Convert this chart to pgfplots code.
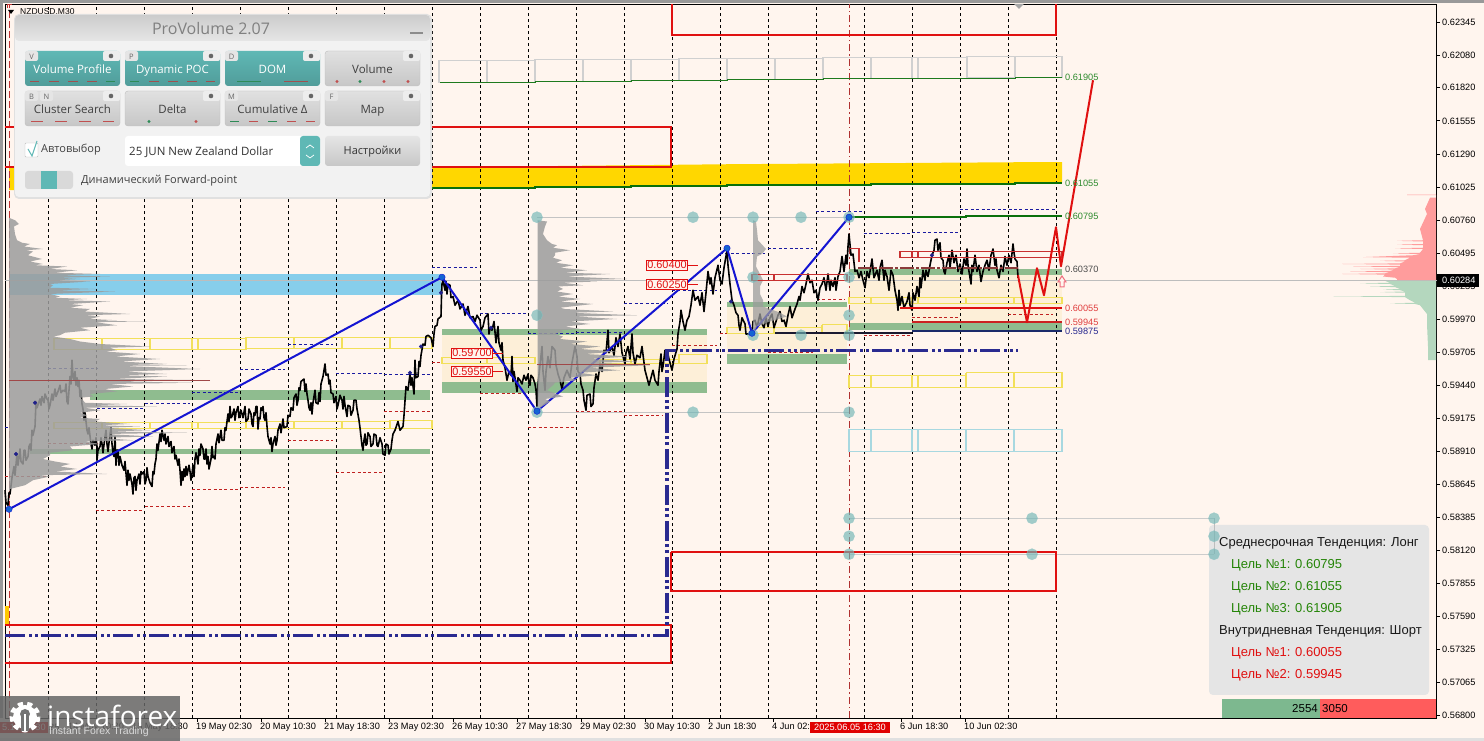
\documentclass[border=0pt]{standalone}
\usepackage{fontspec}
\usepackage{pgfplots}
\pgfplotsset{compat=1.18}
\setmainfont{Liberation Sans}
\newfontfamily\panelfont{Open Sans}
\definecolor{bgc}{HTML}{FFF5EE}
\definecolor{grn}{HTML}{8FBC8F}
\definecolor{beig}{HTML}{FDEFD8}
\definecolor{ybox}{HTML}{F2E05A}
\definecolor{rred}{HTML}{E01010}
\definecolor{dgrn}{HTML}{0A700A}
\definecolor{navy2}{HTML}{2A2A90}
\definecolor{zig}{HTML}{1414D2}
\definecolor{teal2}{HTML}{5FB8B5}
\definecolor{dashb}{HTML}{1A1AA0}
\definecolor{dashr}{HTML}{C02020}
\definecolor{prof}{HTML}{9C9C9C}
\definecolor{bxr}{HTML}{C83030}
\definecolor{cblue}{HTML}{87CEEB}
\definecolor{cgold}{HTML}{FFD700}
\definecolor{cgold2}{HTML}{FFC800}
\definecolor{cg1}{HTML}{BDBDBD}
\definecolor{cg2}{HTML}{C4C4C4}
\definecolor{cg3}{HTML}{CCCCCC}
\definecolor{cg4}{HTML}{D0D0D0}
\definecolor{cg5}{HTML}{1E7A1E}
\definecolor{cr1}{HTML}{B03030}
\definecolor{cr2}{HTML}{C03030}
\definecolor{cr3}{HTML}{CC2222}
\definecolor{clb}{HTML}{A8D8E0}
\definecolor{cpoc}{HTML}{A04848}
\definecolor{cbr}{HTML}{8B3A3A}
\definecolor{cn1}{HTML}{1A1A30}
\definecolor{cn2}{HTML}{1A2A6A}
\definecolor{ccirc}{HTML}{6FB5B5}
\definecolor{ccirc2}{HTML}{8FC5C5}
\definecolor{cdot}{HTML}{1464D2}
\definecolor{cdot2}{HTML}{20208A}
\definecolor{cpink}{HTML}{FF9C9C}
\definecolor{clg}{HTML}{B4D7BE}
\definecolor{cglab}{HTML}{2E8B2E}
\definecolor{crlab}{HTML}{E04040}
\definecolor{carr}{HTML}{F07080}
\definecolor{cflag}{HTML}{E00000}
\definecolor{cpan}{HTML}{F2F2F2}
\definecolor{cbg}{HTML}{7DB88F}
\definecolor{cbr2}{HTML}{FF5C5C}
\definecolor{ci1}{HTML}{A05050}
\definecolor{ci2}{HTML}{2E8B57}
\definecolor{ci3}{HTML}{C05050}
\newcommand\zone[5]{\addplot[fill=#5,draw=none,forget plot] coordinates {(#1,#3)(#2,#3)(#2,#4)(#1,#4)} --cycle;}
\newcommand\bx[5]{\addplot[draw=#5,line width=1.1pt,forget plot] coordinates {(#1,#3)(#2,#3)(#2,#4)(#1,#4)(#1,#3)};}
\newcommand\seg[4]{\addplot[#4,forget plot] coordinates {(#1,#3)(#2,#3)};}
\newcommand\db[3]{\addplot[dashb,line width=0.9pt,dash pattern=on 3pt off 2.4pt,forget plot] coordinates {(#1,#3)(#2,#3)};}
\newcommand\dr[3]{\addplot[dashr,line width=0.9pt,dash pattern=on 3pt off 2.4pt,forget plot] coordinates {(#1,#3)(#2,#3)};}
\newcommand\lab[3]{\node[anchor=west,inner sep=0pt,text=#3,font=\fontsize{9.2}{10}\selectfont] at (axis cs:1065,#1) {#2};}
\newcommand\pricetag[3]{\node[draw=rred,fill=bgc,text=rred,inner sep=1pt,line width=.8pt,font=\fontsize{10.9}{12}\selectfont,anchor=center] at (axis cs:#1,#2) {#3};}
\newcommand\btn[6]{%
 \ifnum#5=1 \shade[rounded corners=3pt,top color=teal2,bottom color=teal2!85!black] (#1,#2) rectangle (#3,#4);\def\btncol{white}%
 \else \shade[rounded corners=3pt,top color=white!88!black,bottom color=white!78!black,draw=white!75!black,line width=.4pt] (#1,#2) rectangle (#3,#4);\def\btncol{black!75}\fi
 \node[anchor=base,inner sep=0pt,font=\panelfont\fontsize{11.5}{12}\selectfont,text=\btncol] at ({(#1+#3)/2},{#2+23}) {#6};
 \fill[white!93!black,rounded corners=2pt] ({#3-17},#2) rectangle (#3,{#2+10});
 \fill[black!60] ({#3-9},{#2+5}) circle (2.3);
 }
\newcommand\tabl[3]{\fill[white!90!black,rounded corners=2pt] (#1,#2) rectangle ({#1+13},{#2+10});\node[font=\panelfont\fontsize{7.5}{8}\selectfont,text=black!60] at ({#1+6.5},{#2+5.5}) {#3};}
\newcommand\tck[4]{\draw[#4,line width=.8pt] (#1,#3) -- (#2,#3);}
\begin{document}
\begin{tikzpicture}[x=1pt,y=1pt]
\useasboundingbox (0,0) rectangle (1484,741);
\fill[bgc] (0,0) rectangle (1484,741);
\begin{scope}[shift={(0,741)},y=-1pt]
\fill[black!40] (0,0) rectangle (1484,3);
\fill[black!40] (0,0) rectangle (3,718);
\fill[black!12] (0,738) rectangle (1484,741);
% info panel
\fill[white!90!black,rounded corners=4pt] (1209,525) rectangle (1429,695);
\begin{scope}[font=\fontsize{13}{14}\selectfont]
\node[anchor=west,inner sep=0pt,text=black!90] at (1219,543.5) {Среднесрочная Тенденция: Лонг};
\node[anchor=west,inner sep=0pt,text=dgrn!85!lime] at (1231,565.5) {Цель №1: 0.60795};
\node[anchor=west,inner sep=0pt,text=dgrn!85!lime] at (1231,587.5) {Цель №2: 0.61055};
\node[anchor=west,inner sep=0pt,text=dgrn!85!lime] at (1231,609.5) {Цель №3: 0.61905};
\node[anchor=west,inner sep=0pt,text=black!90] at (1219,631.5) {Внутридневная Тенденция: Шорт};
\node[anchor=west,inner sep=0pt,text=rred] at (1231,653.5) {Цель №1: 0.60055};
\node[anchor=west,inner sep=0pt,text=rred] at (1231,675.5) {Цель №2: 0.59945};
\end{scope}
\fill[cbg] (1222,699) rectangle (1320,718);
\fill[cbr2] (1320,699) rectangle (1436,718);
\node[anchor=east,inner sep=0pt,font=\fontsize{11.5}{12}\selectfont] at (1318,709) {2554};
\node[anchor=west,inner sep=0pt,font=\fontsize{11.5}{12}\selectfont] at (1322,709) {3050};
\end{scope}
\begin{axis}[at={(5,18.2)},anchor=south west,scale only axis,width=1431.5pt,height=714pt,
 xmin=5,xmax=1436.5,ymin=0.56776,ymax=0.62488,clip=false,
 axis line style={black,line width=1pt},
 tick style={black,line width=.8pt},major tick length=3.5pt,tick align=outside,
 xtick pos=bottom,ytick pos=right,yticklabel pos=right,
 xtick={69,133,197,261,325,389,453,517,581,645,709,773,901,965},
 xticklabels={14 May 10:30,15 May 18:30,19 May 02:30,20 May 10:30,21 May 18:30,23 May 02:30,26 May 10:30,27 May 18:30,29 May 02:30,30 May 10:30,2 Jun 18:30,4 Jun 02:30,6 Jun 18:30,10 Jun 02:30},
 xticklabel style={anchor=north west,inner sep=0pt,xshift=-1pt,yshift=-1.5pt,font=\fontsize{9.2}{10}\selectfont},
 ytick={0.62345,0.62080,0.61820,0.61555,0.61290,0.61025,0.60760,0.60495,0.60235,0.59970,0.59705,0.59440,0.59175,0.58910,0.58645,0.58385,0.58120,0.57855,0.57590,0.57325,0.57065,0.56800},
 yticklabels={0.62345,0.62080,0.61820,0.61555,0.61290,0.61025,0.60760,0.60495,0.60235,0.59970,0.59705,0.59440,0.59175,0.58910,0.58645,0.58385,0.58120,0.57855,0.57590,0.57325,0.57065,0.56800},
 yticklabel style={anchor=west,inner sep=0pt,xshift=2pt,font=\fontsize{9.2}{10}\selectfont},
 scaled y ticks=false,
]
% zones
\zone{9}{441}{0.60328}{0.6016}{cblue}
\addplot[fill=cgold,draw=none,forget plot] coordinates {(9,0.61176)(439,0.61184)(535,0.61192)(631,0.612)(727,0.61208)(871,0.61216)(1015,0.61224)(1062,0.61224)(1062,0.6106)(1015,0.6106)(871,0.61048)(727,0.6104)(631,0.61032)(535,0.61024)(439,0.61016)(431,0.61016)(9,0.61)} --cycle;
\zone{90}{430}{0.5940}{0.5932}{grn}
\zone{30}{430}{0.58928}{0.58888}{grn}
\zone{442}{707}{0.5984}{0.59464}{beig}
\zone{442}{707}{0.59888}{0.5984}{grn}
\zone{442}{707}{0.59464}{0.59376}{grn}
\zone{727}{847}{0.60064}{0.59688}{beig}
\zone{727}{847}{0.60104}{0.60064}{grn}
\zone{727}{847}{0.59688}{0.59608}{grn}
\zone{849}{1062}{0.6032}{0.59936}{beig}
\zone{849}{1062}{0.60368}{0.6032}{grn}
\zone{849}{1062}{0.59936}{0.5988}{grn}
\zone{5}{9}{0.57672}{0.5752}{cgold2}
% gray lines
\seg{5}{1436.5}{0.6028}{cg1,line width=1pt}
\seg{537}{849}{0.60784}{cg2,line width=1pt}
\seg{537}{849}{0.59224}{cg2,line width=1pt}
\seg{849}{1214}{0.58376}{cg3,line width=1pt}
\seg{849}{1214}{0.58088}{cg3,line width=1pt}
\addplot[cg1,line width=1pt,forget plot] coordinates {(1214,0.58376)(1214,0.58088)};
% vertical grid
\pgfplotsinvokeforeach{48,96,144,192,240,288,336,384,432,480,528,576,624,672,720,768,816,864,912,960,1008,1056}{
\addplot[black,line width=.9pt,dash pattern=on 3pt off 3pt,forget plot] coordinates {(#1,0.56776)(#1,0.62488)};}
\addplot[cr1,line width=.9pt,dash pattern=on 7pt off 3pt on 1.5pt off 3pt,forget plot] coordinates {(849,0.56776)(849,0.62488)};
\addplot[cr2,line width=.9pt,dash pattern=on 7pt off 3pt,forget plot] coordinates {(9,0.56776)(9,0.62488)};
% red rectangles
\addplot[rred,line width=2pt,forget plot] coordinates {(672,0.62488)(672,0.6224)(1056,0.6224)(1056,0.62488)};
\addplot[rred,line width=2pt,forget plot] coordinates {(5,0.61504)(671,0.61504)(671,0.61184)(5,0.61184)};
\addplot[rred,line width=2pt,forget plot] coordinates {(671,0.58104)(1056,0.58104)(1056,0.57792)(671,0.57792)(671,0.58104)};
\addplot[rred,line width=2pt,forget plot] coordinates {(5,0.5752)(671,0.5752)(671,0.57216)(5,0.57216)};
% gray boxes and top target
\bx{439}{487}{0.6204}{0.61864}{cg4}\bx{487}{535}{0.6204}{0.61864}{cg4}
\bx{535}{583}{0.62048}{0.61872}{cg4}\bx{583}{631}{0.62048}{0.61872}{cg4}
\bx{631}{679}{0.62048}{0.6188}{cg4}\bx{679}{727}{0.62056}{0.6188}{cg4}
\bx{727}{775}{0.62056}{0.61888}{cg4}\bx{775}{823}{0.62056}{0.61888}{cg4}
\bx{823}{871}{0.62064}{0.61896}{cg4}\bx{871}{912}{0.62064}{0.61896}{cg4}
\bx{912}{918}{0.62064}{0.61896}{cg4}\bx{918}{967}{0.62064}{0.61896}{cg4}
\bx{967}{1015}{0.62072}{0.61904}{cg4}\bx{1015}{1062}{0.62072}{0.61904}{cg4}
\addplot[cg5,line width=1pt,forget plot] coordinates {(440,0.61864)(535,0.61864)(535,0.61872)(631,0.61872)(631,0.6188)(727,0.6188)(727,0.61888)(823,0.61888)(823,0.61896)(1015,0.61896)(1015,0.61904)(1062,0.61904)};
\addplot[dgrn,line width=2pt,forget plot] coordinates {(431,0.61016)(535,0.61016)(535,0.61024)(631,0.61024)(631,0.61032)(727,0.61032)(727,0.6104)(871,0.6104)(871,0.61048)(1015,0.61048)(1015,0.6106)(1062,0.6106)};
% yellow boxes
\bx{54}{102}{0.59816}{0.59728}{ybox}\bx{102}{150}{0.59816}{0.59728}{ybox}\bx{150}{192}{0.59816}{0.59728}{ybox}\bx{192}{198}{0.59816}{0.59728}{ybox}\bx{198}{246}{0.59816}{0.59728}{ybox}\bx{246}{294}{0.59824}{0.59736}{ybox}\bx{294}{342}{0.59824}{0.59736}{ybox}\bx{342}{390}{0.59824}{0.59736}{ybox}\bx{390}{432}{0.59824}{0.59736}{ybox}
\bx{54}{102}{0.59144}{0.59096}{ybox}\bx{102}{150}{0.59144}{0.59096}{ybox}\bx{150}{192}{0.59144}{0.59096}{ybox}\bx{192}{198}{0.59144}{0.59096}{ybox}\bx{198}{246}{0.59144}{0.59096}{ybox}\bx{246}{294}{0.5915}{0.59096}{ybox}\bx{294}{342}{0.5915}{0.59096}{ybox}\bx{342}{390}{0.5915}{0.59096}{ybox}\bx{390}{432}{0.5916}{0.59096}{ybox}
\bx{442}{487}{0.59664}{0.59616}{ybox}\bx{487}{535}{0.59664}{0.59616}{ybox}\bx{600}{631}{0.59648}{0.59616}{ybox}\bx{631}{679}{0.59648}{0.59616}{ybox}\bx{679}{707}{0.59688}{0.59616}{ybox}
\bx{727}{774}{0.59904}{0.59856}{ybox}\bx{774}{822}{0.59904}{0.59856}{ybox}\bx{822}{847}{0.59925}{0.59856}{ybox}
\bx{849}{871}{0.60144}{0.60096}{ybox}\bx{871}{912}{0.60144}{0.60096}{ybox}\bx{912}{918}{0.60144}{0.60096}{ybox}\bx{918}{966}{0.60144}{0.60096}{ybox}\bx{966}{1014}{0.60144}{0.60096}{ybox}\bx{1014}{1062}{0.60144}{0.60096}{ybox}
\bx{849}{871}{0.5952}{0.59424}{ybox}\bx{871}{912}{0.5952}{0.59424}{ybox}\bx{912}{918}{0.5952}{0.59424}{ybox}\bx{918}{966}{0.5952}{0.59424}{ybox}\bx{966}{1014}{0.5954}{0.59424}{ybox}\bx{1014}{1062}{0.5954}{0.59424}{ybox}
\bx{849}{871}{0.59088}{0.58912}{clb}\bx{871}{912}{0.59088}{0.58912}{clb}\bx{912}{918}{0.59088}{0.58912}{clb}\bx{918}{966}{0.59088}{0.58912}{clb}\bx{966}{1014}{0.59088}{0.58912}{clb}\bx{1014}{1062}{0.59088}{0.58912}{clb}
% dashed session high / low
\db{48}{97}{0.59576}\db{97}{145}{0.59256}\db{145}{190}{0.59296}\db{192}{240}{0.59384}\db{240}{285}{0.59568}\db{288}{333}{0.59768}\db{336}{383}{0.59536}\db{384}{430}{0.59528}\db{432}{477}{0.60384}\db{480}{527}{0.60016}\db{528}{575}{0.59856}\db{576}{623}{0.59864}\db{624}{668}{0.60096}\db{672}{717}{0.602}\db{720}{765}{0.60496}\db{768}{813}{0.60536}\db{816}{862}{0.60832}\db{864}{910}{0.60656}\db{912}{958}{0.60664}\db{960}{1055}{0.60848}\db{5}{10}{0.59104}
\dr{5}{48}{0.58712}\dr{48}{97}{0.58976}\dr{96}{142}{0.5844}\dr{145}{190}{0.58472}\dr{192}{240}{0.58608}\dr{240}{285}{0.58624}\dr{288}{333}{0.59}\dr{336}{383}{0.58744}\dr{384}{430}{0.59232}\dr{432}{442}{0.59624}\dr{480}{527}{0.59376}\dr{528}{575}{0.59104}\dr{576}{622}{0.59232}\dr{624}{663}{0.592}\dr{672}{717}{0.5976}\dr{720}{727}{0.59856}\dr{768}{813}{0.59704}\dr{817}{845}{0.60128}\dr{864}{910}{0.5984}\dr{912}{958}{0.59984}\dr{1008}{1053}{0.60008}
% price
\addplot[black,line width=1.6pt,line join=round,forget plot] coordinates {
(5,.5860)(6,.5850)(8,.5848)(9,.5858)(10,.5857)(12,.5870)(14,.5879)(15,.5872)(17,.5889)(18,.5880)(20,.5893)(21,.5883)(23,.5881)(24,.5892)(25,.5892)(26,.5884)(28,.5887)(29,.5895)(30,.5897)(31,.5892)(32,.5908)(33,.5904)(35,.5911)(36,.5931)(37,.5926)(40,.5933)(41,.5928)(42,.5935)(44,.5930)(45,.5937)(47,.5933)(48,.5932)(49,.5925)(50,.5928)(52,.5937)(53,.5932)(55,.5941)(56,.5935)(58,.5939)(60,.5944)(61,.5938)(63,.5940)(65,.5939)(66,.5945)(67,.5931)(68,.5929)(69,.5940)(70,.5951)(71,.5945)(72,.5964)(73,.5951)(74,.5948)(75,.5955)(76,.5944)(77,.5950)(78,.5943)(79,.5948)(80,.5935)(81,.5940)(82,.5929)(83,.5925)(84,.5916)(85,.5922)(87,.5908)(88,.5905)(89,.5910)(91,.5897)(92,.5893)(93,.5900)(95,.5896)(96,.5902)(97,.5895)(97,.5884)(98,.5892)(100,.5895)(101,.5902)(102,.5897)(103,.5890)(105,.5903)(106,.5908)(107,.5897)(108,.5891)(110,.5905)(111,.5910)(112,.5897)(113,.5890)(114,.5887)(115,.5903)(116,.5880)(117,.5892)(118,.5892)(119,.5880)(120,.5887)(122,.5880)(124,.5876)(125,.5883)(127,.5864)(128,.5876)(129,.5868)(130,.5873)(132,.5865)(133,.5857)(134,.5870)(135,.5871)(136,.5860)(137,.5868)(139,.5873)(140,.5865)(141,.5875)(142,.5873)(144,.5875)(145,.5865)(146,.5868)(147,.5878)(148,.5871)(150,.5866)(152,.5863)(153,.5875)(154,.5873)(155,.5881)(156,.5885)(157,.5897)(158,.5892)(160,.5905)(161,.5899)(162,.5908)(164,.5900)(165,.5905)(166,.5897)(168,.5903)(169,.5895)(171,.5899)(172,.5890)(174,.5895)(175,.5885)(176,.5888)(178,.5880)(179,.5885)(180,.5876)(181,.5864)(182,.5875)(183,.5868)(184,.5877)(185,.5871)(186,.5879)(187,.5872)(189,.5880)(190,.5875)(191,.5868)(192,.5873)(193,.5880)(194,.5871)(195,.5885)(196,.5890)(198,.5881)(199,.5893)(200,.5888)(201,.5897)(203,.5893)(204,.5885)(205,.5885)(206,.5893)(207,.5881)(208,.5887)(209,.5877)(211,.5885)(212,.5895)(213,.5886)(214,.5887)(215,.5885)(216,.5897)(218,.5905)(219,.5898)(221,.5908)(222,.5900)(224,.5900)(225,.5910)(226,.5908)(227,.5915)(228,.5921)(229,.5915)(230,.5927)(231,.5918)(232,.5919)(234,.5925)(235,.5916)(236,.5922)(238,.5927)(239,.5918)(241,.5924)(243,.5918)(245,.5927)(246,.5915)(248,.5917)(249,.5925)(251,.5921)(252,.5913)(253,.5911)(254,.5922)(255,.5920)(256,.5927)(257,.5927)(258,.5909)(259,.5918)(260,.5917)(261,.5926)(262,.5924)(263,.5927)(264,.5918)(265,.5916)(266,.5922)(267,.5911)(268,.5903)(270,.5897)(271,.5902)(272,.5891)(273,.5897)(275,.5903)(276,.5896)(277,.5900)(278,.5908)(280,.5913)(281,.5906)(283,.5917)(284,.5910)(287,.5911)(288,.5920)(290,.5919)(291,.5926)(293,.5924)(294,.5934)(296,.5937)(297,.5928)(298,.5932)(299,.5942)(300,.5940)(301,.5947)(304,.5949)(305,.5939)(306,.5945)(307,.5937)(308,.5932)(309,.5926)(310,.5924)(311,.5930)(312,.5921)(313,.5930)(315,.5940)(316,.5930)(318,.5929)(319,.5938)(320,.5931)(321,.5945)(323,.5951)(324,.5956)(325,.5961)(326,.5952)(328,.5953)(329,.5945)(330,.5948)(331,.5938)(333,.5937)(334,.5930)(336,.5935)(337,.5925)(338,.5928)(340,.5936)(342,.5932)(343,.5925)(344,.5935)(345,.5928)(347,.5919)(348,.5928)(350,.5927)(351,.5920)(353,.5924)(354,.5932)(356,.5932)(357,.5925)(359,.5916)(360,.5910)(361,.5903)(362,.5896)(363,.5892)(364,.5900)(365,.5905)(366,.5896)(367,.5897)(368,.5906)(370,.5903)(371,.5895)(373,.5897)(374,.5905)(376,.5904)(377,.5896)(378,.5895)(380,.5902)(382,.5897)(383,.5889)(385,.5888)(386,.5897)(388,.5896)(389,.5889)(391,.5893)(392,.5900)(393,.5905)(395,.5908)(398,.5915)(400,.5908)(403,.5911)(404,.5920)(406,.5943)(408,.5940)(410,.5953)(411,.5944)(412,.5950)(414,.5937)(415,.5964)(416,.5950)(418,.5951)(419,.5963)(420,.5959)(421,.5968)(423,.5977)(425,.5976)(426,.5983)(428,.5984)(431,.5982)(433,.5975)(434,.5985)(435,.5991)(437,.5992)(438,.5997)(441,.5999)(441.5,.6015)(442,.6025)(443,.6028)(445,.6020)(446,.6027)(447,.6017)(448,.6025)(450,.6024)(451,.6014)(453,.6015)(455,.6008)(458,.6012)(460,.6005)(463,.6009)(465,.6000)(468,.6007)(470,.5998)(473,.5999)(475,.5995)(477,.6000)(480,.5996)(481,.5988)(483,.5991)(485,.5998)(488,.6001)(489,.5985)(490,.5990)(492,.5988)(494,.5995)(496,.5978)(498,.5991)(499,.5978)(501,.5972)(502,.5978)(503,.5964)(505,.5958)(507,.5948)(509,.5955)(511,.5952)(512,.5967)(513,.5947)(514,.5955)(517,.5939)(518,.5950)(520,.5948)(522,.5945)(524,.5952)(526,.5948)(528,.5953)(529,.5945)(530,.5944)(531,.5952)(533,.5950)(535,.5945)(536,.5940)(537,.5927)(538,.5945)(540,.5960)(542,.5975)(543,.5955)(545,.5940)(546,.5955)(548,.5967)(550,.5958)(552,.5975)(555,.5972)(556,.5960)(558,.5953)(560,.5948)(562,.5941)(564,.5950)(567,.5956)(570,.5950)(572,.5962)(575,.5975)(577,.5967)(578,.5955)(580,.5953)(581,.5945)(583,.5940)(584,.5932)(586,.5924)(587,.5936)(590,.5937)(591,.5927)(593,.5929)(594,.5942)(596,.5953)(598,.5948)(600,.5961)(602,.5955)(604,.5972)(606,.5970)(608,.5988)(609,.5970)(612,.5975)(614,.5968)(616,.5982)(618,.5975)(620,.5985)(622,.5970)(625,.5961)(626,.5970)(628,.5975)(630,.5965)(632,.5985)(633,.5970)(635,.5961)(637,.5968)(640,.5966)(642,.5975)(644,.5962)(645,.5956)(647,.5950)(649,.5944)(651,.5950)(653,.5956)(655,.5948)(658,.5944)(659,.5955)(661,.5969)(662,.5955)(663,.5959)(665,.5972)(667,.5972)(669,.5965)(672,.5956)(674,.5965)(677,.5973)(678,.5985)(680,.5995)(681,.6004)(683,.5995)(685,.5988)(687,.5996)(689,.5999)(691,.6008)(693,.6020)(695,.6012)(698,.6015)(700,.6008)(702,.6018)(704,.6003)(706,.6018)(708,.6035)(710,.6025)(711,.6030)(713,.6017)(715,.6030)(718,.6040)(720,.6028)(722,.6025)(724,.6038)(727,.6052)(728,.6040)(730,.6025)(732,.6012)(734,.6008)(736,.6002)(738,.6000)(739,.5992)(740,.5988)(742,.5998)(745,.5993)(746,.5985)(749,.5985)(751,.5987)(752,.5985)(753,.5995)(755,.5996)(757,.5990)(760,.6001)(762,.5993)(764,.5990)(766,.5998)(768,.5991)(770,.5998)(772,.6001)(774,.5990)(776,.5995)(778,.6000)(780,.6003)(782,.5995)(784,.5996)(786,.5991)(788,.6000)(790,.6007)(792,.5998)(795,.6005)(797,.6009)(799,.6015)(800,.6012)(802,.6023)(804,.6018)(806,.6025)(808,.6033)(810,.6026)(812,.6028)(814,.6018)(816,.6020)(818,.6012)(820,.6022)(822,.6025)(824,.6030)(826,.6020)(828,.6033)(830,.6020)(831,.6028)(833,.6023)(835,.6030)(836,.6020)(838,.6031)(840,.6035)(842,.6047)(844,.6035)(846,.6048)(847,.6041)(848,.6055)(849,.6065)(851,.6048)(853,.6049)(855,.6035)(857,.6036)(859,.6030)(861,.6035)(863,.6028)(865,.6022)(867,.6035)(869,.6030)(872,.6045)(874,.6030)(877,.6036)(879,.6028)(880,.6038)(882,.6044)(884,.6028)(885,.6036)(887,.6031)(889,.6020)(891,.6036)(893,.6032)(895,.6020)(897,.6012)(898,.6004)(899,.6020)(900,.6008)(902,.6015)(904,.6006)(907,.6011)(909,.6018)(910,.6008)(912,.6004)(913,.6018)(915,.6012)(917,.6023)(919,.6015)(920,.6030)(921,.6022)(923,.6036)(925,.6028)(926,.6036)(928,.6031)(930,.6040)(932,.6048)(934,.6052)(935,.6060)(937,.6061)(938,.6052)(940,.6058)(941,.6046)(943,.6044)(944,.6035)(945,.6033)(947,.6042)(949,.6048)(950,.6038)(952,.6052)(954,.6042)(956,.6048)(958,.6035)(960,.6041)(962,.6033)(964,.6045)(966,.6040)(967,.6053)(968,.6040)(970,.6030)(971,.6025)(972,.6040)(973,.6035)(975,.6048)(977,.6035)(979,.6040)(981,.6027)(983,.6035)(985,.6040)(987,.6044)(989,.6036)(991,.6048)(993,.6053)(995,.6040)(996,.6045)(997,.6036)(999,.6030)(1001,.6040)(1003,.6035)(1005,.6047)(1007,.6040)(1009,.6048)(1011,.6042)(1013,.6057)(1014,.6050)(1015,.6045)(1017,.6043)(1018,.6030)};
% zigzag
\addplot[zig,line width=2pt,forget plot] coordinates {(9,.58448)(442,.60304)(537,.59232)(727,.60536)(752,.59856)(849,.60784)};
% profiles
\addplot[fill=prof,fill opacity=.85,draw=none,forget plot] coordinates {(9,.6078)(15,.6076)(19,.6073)(14,.6071)(15,.6065)(17,.6060)(22,.6058)(30,.6057)(24,.6055)(43,.6053)(26,.6052)(33,.6051)(28,.6048)(42,.6045)(30,.6043)(43,.6041)(35,.6040)(67,.6039)(50,.6037)(77,.6036)(55,.6034)(100,.6033)(60,.6032)(110,.6031)(60,.6030)(80,.6029)(55,.6028)(90,.6027)(50,.6025)(53,.6024)(50,.6022)(97,.6021)(55,.6020)(115,.6019)(50,.6017)(60,.6015)(55,.6014)(87,.6013)(65,.6012)(110,.6011)(70,.6009)(83,.6008)(70,.6006)(90,.6005)(85,.6003)(130,.6001)(85,.6000)(100,.5999)(90,.5997)(117,.5996)(95,.59955)(147,.5995)(95,.59945)(117,.5992)(80,.5990)(90,.5988)(65,.5986)(60,.5984)(53,.5983)(70,.5981)(80,.5979)(100,.5977)(150,.5975)(110,.5974)(117,.5972)(105,.5971)(140,.5969)(115,.5967)(160,.5965)(120,.5963)(167,.5961)(125,.59605)(187,.5960)(120,.59595)(200,.5957)(125,.5955)(167,.5953)(120,.5952)(167,.5951)(115,.5949)(210,.5948)(115,.5947)(193,.5946)(110,.5945)(133,.5943)(105,.5941)(117,.5939)(90,.5937)(93,.5935)(80,.5934)(83,.5932)(85,.5930)(127,.5929)(95,.5928)(157,.5927)(85,.5926)(100,.5924)(80,.5922)(87,.5920)(80,.5918)(100,.5917)(95,.5915)(130,.5913)(100,.5912)(140,.5911)(105,.5910)(150,.5908)(110,.5907)(187,.5906)(105,.5905)(153,.5903)(100,.5902)(133,.5900)(85,.5899)(100,.5897)(70,.5895)(73,.5892)(50,.5890)(50,.5888)(43,.5885)(55,.5883)(70,.5881)(60,.5879)(77,.5877)(55,.5875)(107,.5873)(40,.5872)(50,.5871)(33,.5868)(25,.5864)(10,.5861)(9,.5860)} --cycle;
\addplot[fill=prof,fill opacity=.85,draw=none,forget plot] coordinates {(537.5,.6076)(547,.6075)(545,.6071)(543,.6065)(547,.6060)(552,.6057)(557,.6056)(553,.6054)(570,.6052)(555,.6050)(555,.6048)(553,.6046)(562,.6044)(556,.6042)(573,.6040)(560,.6038)(587,.6036)(565,.6034)(610,.6033)(565,.6031)(627,.6029)(565,.6028)(597,.6027)(563,.6026)(583,.6024)(558,.6023)(563,.6021)(557,.6019)(573,.6017)(558,.6015)(580,.6013)(560,.6011)(593,.6009)(560,.6006)(565,.6005)(613,.6003)(570,.6002)(637,.6000)(575,.5999)(617,.5997)(570,.5995)(590,.5993)(565,.5991)(580,.5989)(560,.5988)(563,.5987)(555,.5985)(563,.5983)(560,.5981)(587,.5979)(570,.5977)(600,.5975)(580,.5973)(617,.5971)(585,.5969)(630,.5967)(590,.5965)(637,.5963)(595,.5962)(650,.5960)(590,.5958)(620,.5956)(580,.5954)(597,.5952)(570,.5950)(577,.5948)(555,.5946)(553,.5944)(547,.5940)(563,.5935)(545,.5933)(550,.5931)(538,.5925)(537.5,.5924)} --cycle;
\addplot[fill=prof,fill opacity=.75,draw=none,forget plot] coordinates {(753,.6076)(756,.6075)(757,.6068)(758,.6060)(766,.6053)(762,.6049)(757,.6047)(756,.6039)(760,.6033)(763,.6028)(760,.6023)(760,.6017)(763,.6012)(763,.6007)(777,.6003)(787,.5999)(770,.5995)(757,.5991)(753,.5985)} --cycle;
\addplot[fill=cpink,draw=none,forget plot] coordinates {(1436,.60965)(1407,.60965)(1407,.6096)(1436,.6096)(1436,.6094)(1430,.6094)(1425,.6085)(1427,.6081)(1420,.6069)(1423,.6060)(1397,.60595)(1423,.6059)(1423,.6057)(1397,.60565)(1423,.6056)(1423,.6054)(1395,.60535)(1423,.6053)(1420,.6050)(1393,.60495)(1420,.6049)(1413,.6048)(1363,.60465)(1410,.6046)(1405,.6044)(1380,.60435)(1405,.6043)(1400,.60415)(1342,.6041)(1400,.60405)(1400,.60395)(1353,.6039)(1400,.60385)(1395,.60375)(1360,.6037)(1395,.60365)(1390,.60355)(1350,.6035)(1390,.60345)(1385,.60335)(1342,.6033)(1385,.60325)(1383,.6031)(1395,.6030)(1397,.6029)(1397,.6028)(1436,.6028)} --cycle;
\addplot[fill=clg,draw=none,forget plot] coordinates {(1436,.60275)(1385,.60275)(1390,.6026)(1360,.60255)(1390,.6025)(1395,.60235)(1370,.6023)(1395,.60225)(1400,.6021)(1383,.60205)(1400,.6020)(1405,.6019)(1380,.60185)(1405,.6018)(1405,.60155)(1333,.6015)(1405,.60145)(1410,.6012)(1415,.6010)(1390,.60095)(1415,.6009)(1420,.6008)(1427,.6001)(1427,.5993)(1428,.5975)(1428,.5964)(1436,.5964)} --cycle;
\seg{9}{210}{0.5948}{cpoc,line width=1pt}
\seg{537}{650}{0.59605}{cpoc,line width=1pt}
% dark red boxes and levels
\bx{900}{912}{0.60512}{0.60464}{bxr}\bx{912}{918}{0.60512}{0.60464}{bxr}\bx{918}{1062}{0.60512}{0.60464}{bxr}
\bx{752}{774}{0.60328}{0.6028}{bxr}\bx{774}{847}{0.60328}{0.6028}{bxr}
\addplot[bxr,line width=1.2pt,forget plot] coordinates {(850,.60536)(859,.60536)(859,.60424)};
\addplot[cbr,line width=1.6pt,dash pattern=on 14pt off 2pt on 3pt off 2pt,forget plot] coordinates {(858,.60376)(1018,.60376)};
\addplot[dgrn,line width=2pt,forget plot] coordinates {(849,.60784)(966,.60784)(966,.60795)(1062,.60795)};
\seg{900}{1062}{0.60055}{rred,line width=2pt}
\seg{912}{1062}{0.59945}{cr3,line width=2pt}
\seg{775}{912}{0.59860}{cn1,line width=2pt}
\seg{912}{1062}{0.59875}{cn2,line width=2pt}
% long dash dot line
\addplot[navy2,line width=3.4pt,dash pattern=on 20pt off 4pt on 3pt off 3pt on 3pt off 3pt,forget plot] coordinates {(5,.5744)(667,.5744)(667,.5972)(1018,.5972)};
% forecast
\addplot[rred,line width=2pt,line join=round,forget plot] coordinates {(1018,.6032)(1027,.59944)(1037,.60376)(1044,.6016)(1056,.60704)(1061,.60392)(1093,.6188)};
% circles and nodes
\addplot[only marks,mark=*,mark size=5.6pt,mark options={fill=ccirc,draw=ccirc2,fill opacity=.65,draw opacity=.65},forget plot] coordinates {(537,.60784)(693,.60784)(753,.60784)(801,.60784)(849,.60784)(537,.6)(537,.59224)(693,.59224)(849,.59224)(753,.60304)(849,.60304)(849,.6)(753,.5984)(801,.5984)(849,.5984)(849,.58376)(1032,.58376)(1214,.58376)(849,.58232)(1214,.58232)(849,.58088)(1032,.58088)(1214,.58088)};
\addplot[only marks,mark=*,mark size=3.2pt,mark options={fill=cdot,draw=zig},forget plot] coordinates {(9,.58448)(442,.60304)(537,.59232)(727,.60536)(752,.59856)(849,.60784)};
\addplot[only marks,mark=*,mark size=1.8pt,mark options={fill=cdot2,draw=cdot2},forget plot] coordinates {(35,.5930)(16,.5889)(441,.6018)(421,.5975)(410,.5954)(491,.5990)(731,.6011)(932,.6048)};
% price tags
\pricetag{667}{.6040}{0.60400}\pricetag{667}{.60244}{0.60250}
\pricetag{472}{.59696}{0.59700}\pricetag{472}{.59548}{0.59550}
\addplot[rred,line width=.8pt,forget plot] coordinates {(688,.6040)(698,.6040)};
\addplot[rred,line width=.8pt,forget plot] coordinates {(688,.60244)(698,.60244)};
\addplot[rred,line width=.8pt,forget plot] coordinates {(493,.59696)(503,.59696)};
\addplot[rred,line width=.8pt,forget plot] coordinates {(493,.59548)(503,.59548)};
% value labels
\lab{0.61905}{0.61905}{cglab}
\lab{0.61055}{0.61055}{cglab}
\lab{0.60795}{0.60795}{cglab}
\lab{0.60370}{0.60370}{black!70}
\lab{0.60055}{0.60055}{crlab}
\lab{0.59945}{0.59945}{crlab}
\lab{0.59875}{0.59875}{navy2}
\end{axis}
\begin{scope}[shift={(0,741)},y=-1pt]
% arrow
\draw[carr,fill=bgc,line width=1pt] (1058,282) -- (1062,276) -- (1066,282) -- (1064,282) -- (1064,287) -- (1060,287) -- (1060,282) -- cycle;
% price tag on axis
\fill[black] (1437,274) rectangle (1479,287);
\node[anchor=west,inner sep=0pt,text=white,font=\fontsize{9.2}{10}\selectfont] at (1442,280.5) {0.60284};
% date flag
\fill[cflag] (810,722) rectangle (890,733);
\node[text=white,inner sep=0pt,font=\fontsize{9.2}{10}\selectfont] at (850,727.7) {2025.06.05 16:30};
\fill[cflag] (0,722) rectangle (48,733);
\node[text=white,inner sep=0pt,font=\fontsize{9.2}{10}\selectfont,anchor=west] at (2,727.7) {5.13 04:30};
\node[anchor=west,inner sep=0pt,font=\fontsize{9.2}{10}\selectfont] at (49,727.7) {25};
% top marker and title
\fill[black!35] (1014,4) -- (1024,4) -- (1019,9) -- cycle;
\fill[black] (8,10) -- (14,10) -- (11,14) -- cycle;
\node[anchor=west,inner sep=0pt,font=\fontsize{8.5}{10}\selectfont] at (20,12) {NZDUSD,M30};
\draw[cr2,line width=1pt] (7,8) -- (7,5) -- (12,5);
% ProVolume panel
\fill[black!12,rounded corners=5pt] (14,14) rectangle (432,199);
\fill[cpan,rounded corners=4pt] (15,15) rectangle (430,197);
\shade[top color=white!80!black,bottom color=white!90!black,rounded corners=4pt] (15,15) rectangle (430,41);
\node[font=\panelfont\fontsize{16}{18}\selectfont,text=black!50] at (211,29) {ProVolume 2.07};
\fill[black!45] (410,32) rectangle (423,34);
\btn{25}{51}{120}{86}{1}{Volume Profile}
\btn{125}{51}{220}{86}{1}{Dynamic POC}
\btn{225}{51}{320}{86}{1}{DOM}
\btn{325}{51}{420}{86}{0}{Volume}
\btn{25}{91}{120}{126}{0}{Cluster Search}
\btn{125}{91}{220}{126}{0}{Delta}
\btn{225}{91}{320}{126}{0}{Cumulative Δ}
\btn{325}{91}{420}{126}{0}{Map}
\tabl{25}{51}{V}\tabl{125}{51}{P}\tabl{225}{51}{D}\tabl{25}{91}{B}\tabl{40}{91}{N}\tabl{225}{91}{M}\tabl{325}{91}{F}
\tck{30}{39}{81.5}{ci1}\tck{49}{59}{81.5}{ci1}\tck{68}{78}{81.5}{ci1}\tck{87}{97}{81.5}{ci1}\tck{106}{115}{81.5}{ci2}
\tck{130}{139}{81.5}{ci2}\tck{149}{159}{81.5}{ci1}\tck{168}{178}{81.5}{ci1}\tck{187}{197}{81.5}{ci1}\tck{206}{215}{81.5}{ci1}
\tck{237}{261}{81.5}{ci2}\tck{284}{308}{81.5}{ci1}
\fill[ci3] (337,81.5) circle (1.7);\fill[ci2] (360,81.5) circle (1.7);\fill[ci3] (384,81.5) circle (1.7);\fill[ci3] (408,81.5) circle (1.7);
\tck{31}{43}{121.5}{ci3}\tck{55}{67}{121.5}{ci3}\tck{79}{91}{121.5}{ci3}\tck{103}{114}{121.5}{ci3}
\fill[ci2] (149,121.5) circle (1.7);\fill[ci3] (196,121.5) circle (1.7);
\tck{230}{239}{121.5}{ci2}\tck{249}{258}{121.5}{ci3}\tck{268}{277}{121.5}{ci2}\tck{287}{296}{121.5}{ci3}\tck{306}{315}{121.5}{ci3}
\filldraw[fill=white,draw=black!25,rounded corners=1pt] (25,143) rectangle (38,157);
\draw[teal2,line width=1pt] (28,149) -- (32,156) -- (37,141);
\node[anchor=west,inner sep=0pt,font=\panelfont\fontsize{11}{12}\selectfont,text=black!75] at (41,150) {Автовыбор};
\fill[white,rounded corners=3pt] (125,136) rectangle (320,166);
\fill[teal2,rounded corners=3pt] (300,136) rectangle (320,166);
\draw[white,line width=.7pt] (306,148) -- (310,145) -- (314,148) (306,155) -- (310,158) -- (314,155);
\node[anchor=west,inner sep=0pt,font=\panelfont\fontsize{11.5}{12}\selectfont,text=black!80] at (129,152) {25 JUN New Zealand Dollar};
\shade[rounded corners=3pt,top color=white!90!black,bottom color=white!78!black] (325,136) rectangle (420,166);
\node[font=\panelfont\fontsize{11}{12}\selectfont,text=black!80] at (372.5,152) {Настройки};
\fill[white!85!black,rounded corners=3pt] (25,171) rectangle (73,189);
\fill[teal2] (41,171) rectangle (57,189);
\node[anchor=west,inner sep=0pt,font=\panelfont\fontsize{11}{12}\selectfont,text=black!75] at (81,181) {Динамический Forward-point};
% logo
\fill[black!60,opacity=.85] (0,696) rectangle (180,741);
\draw[white,line width=5pt,dash pattern=on 5pt off 4pt] (25,717) circle (13);
\fill[white] (25,717) circle (12);
\fill[black!55] (25,714) circle (5);
\fill[black!55] (21,717) rectangle (29,731);
\fill[white] (24,714) rectangle (26,731);
\node[anchor=west,inner sep=0pt,text=white,font=\panelfont\fontsize{28}{30}\selectfont] at (47,716) {instaforex};
\node[anchor=west,inner sep=0pt,text=white!85!black,font=\fontsize{10.5}{11}\selectfont] at (49,732) {Instant Forex Trading};
\end{scope}
\end{tikzpicture}
\end{document}
